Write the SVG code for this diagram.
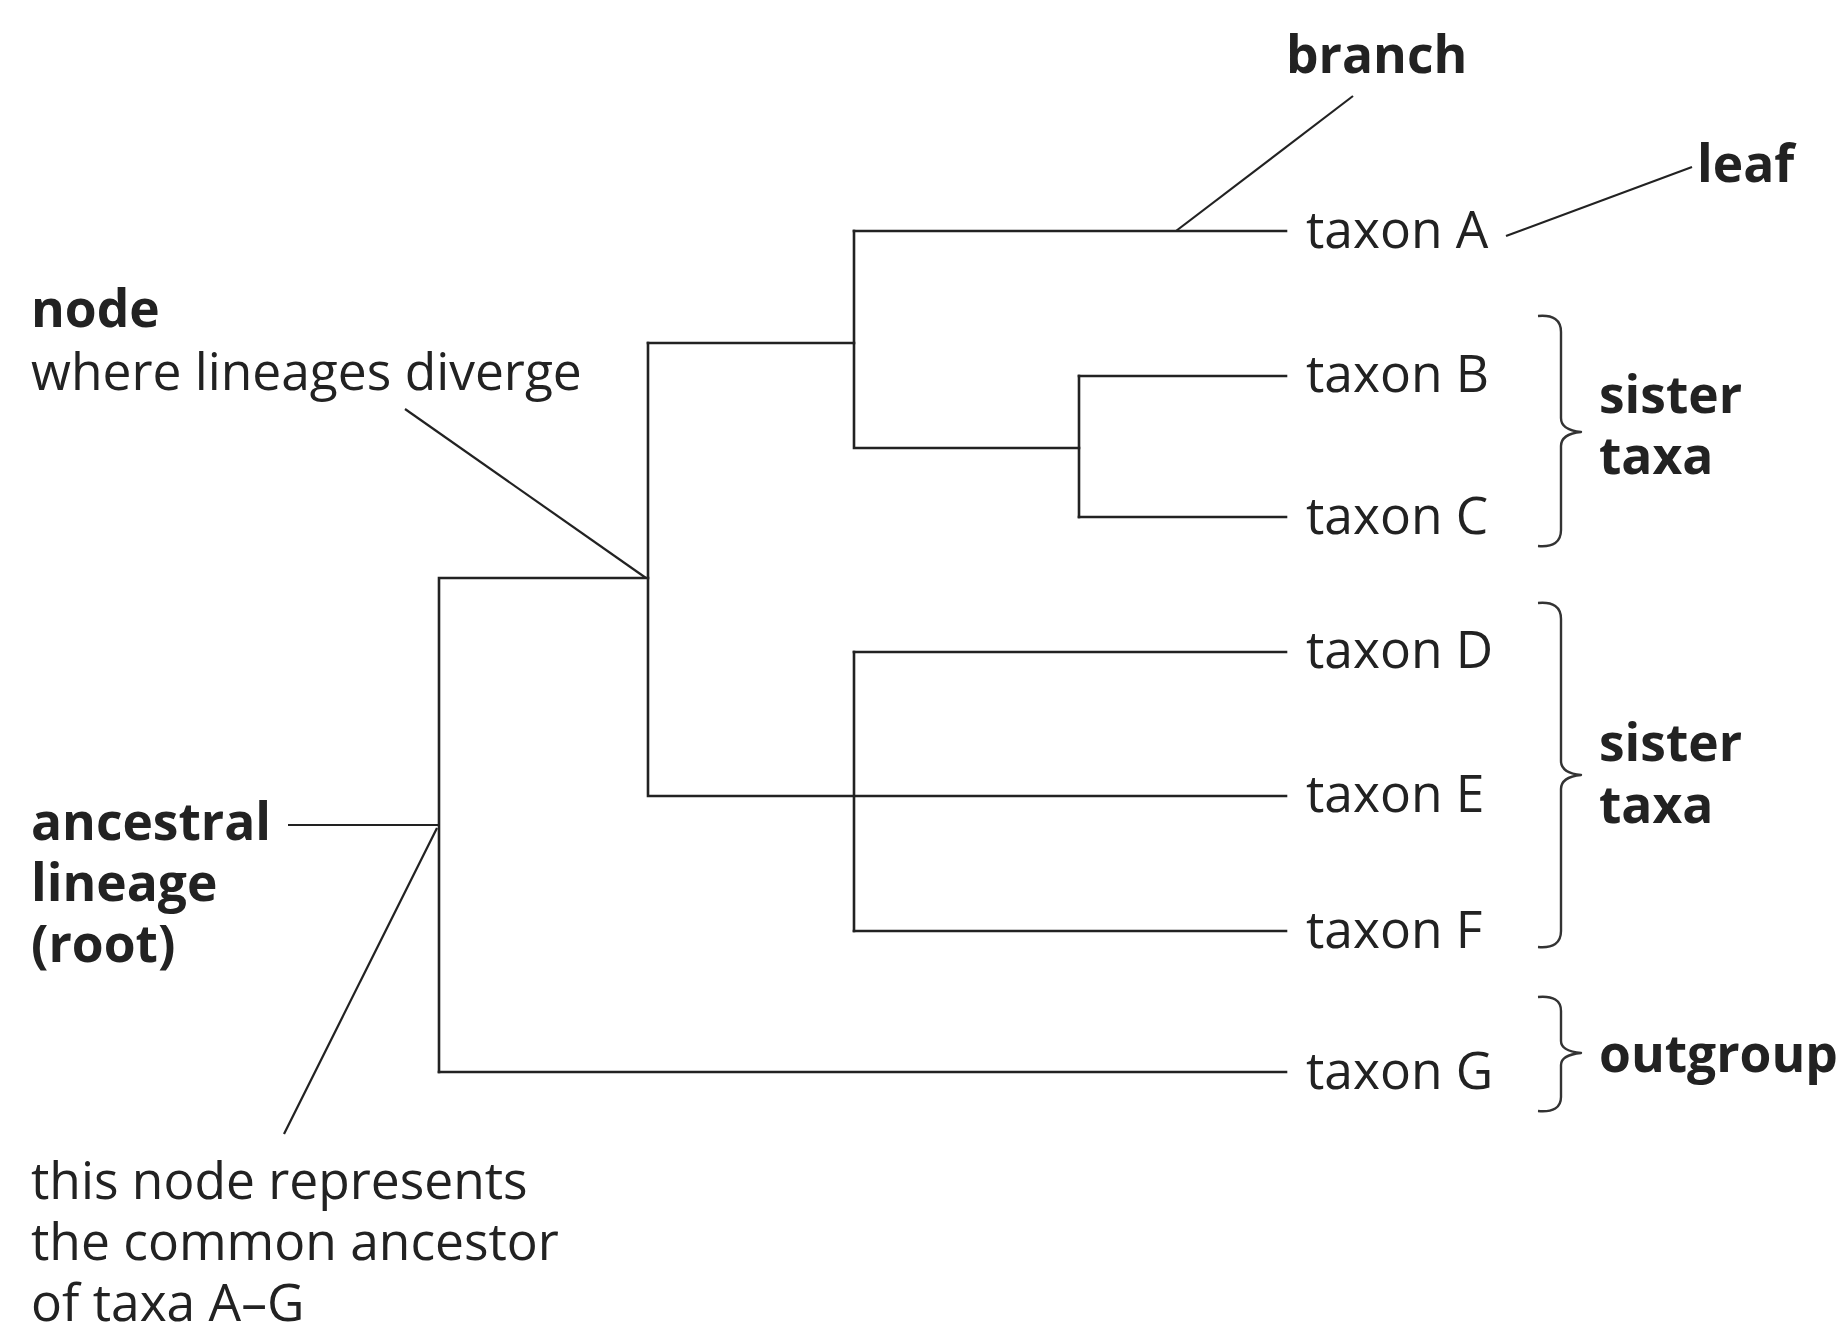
<svg xmlns="http://www.w3.org/2000/svg" width="1841" height="1323" viewBox="0 0 1841 1323">
  <style>
    .edge { fill: none; stroke: #222; stroke-width: 2.6; stroke-linecap: square; }
    .ptr { fill: none; stroke: #222; stroke-width: 2.2; }
    .brace { fill: none; stroke: #333; stroke-width: 2.4; stroke-linejoin: round; }
    text { font-family: "Open Sans", "Noto Sans", "DejaVu Sans", sans-serif; fill: #222; font-size: 51.5px; }
    .b { font-weight: bold; }
  </style>
  <rect width="1841" height="1323" fill="#fff"/>

  <!-- tree branches -->
  <g id="connectors">
    <path class="edge" d="M439,1072 V578 H648"/>
    <path class="edge" d="M439,1072 H1286"/>
    <path class="edge" d="M648,343 V796 H1286"/>
    <path class="edge" d="M648,343 H854 V448 H1079"/>
    <path class="edge" d="M854,231 V343"/>
    <path class="edge" d="M854,231 H1286"/>
    <path class="edge" d="M1079,376 V517"/>
    <path class="edge" d="M1079,376 H1286"/>
    <path class="edge" d="M1079,517 H1286"/>
    <path class="edge" d="M854,652 V931"/>
    <path class="edge" d="M854,652 H1286"/>
    <path class="edge" d="M854,931 H1286"/>
    <!-- callout pointers -->
    <line class="ptr" x1="1353" y1="96" x2="1176" y2="231"/>
    <line class="ptr" x1="1692" y1="167" x2="1506" y2="236"/>
    <line class="ptr" x1="405" y1="409" x2="646" y2="578"/>
    <line class="ptr" x1="288" y1="825" x2="439" y2="825"/>
    <line class="ptr" x1="437" y1="828" x2="284" y2="1134"/>
  </g>

  <!-- leaf labels -->
  <g id="taxon-a"><text x="1306" y="248">taxon A</text></g>
  <g id="taxon-b"><text x="1306" y="392">taxon B</text></g>
  <g id="taxon-c"><text x="1306" y="534">taxon C</text></g>
  <g id="taxon-d"><text x="1306" y="668">taxon D</text></g>
  <g id="taxon-e"><text x="1306" y="812">taxon E</text></g>
  <g id="taxon-f"><text x="1306" y="948">taxon F</text></g>
  <g id="taxon-g"><text x="1306" y="1089">taxon G</text></g>

  <!-- annotations -->
  <g id="label-branch"><text class="b" x="1286" y="73">branch</text></g>
  <g id="label-leaf"><text class="b" x="1697" y="182">leaf</text></g>
  <g id="label-node">
    <text class="b" x="31" y="327">node</text>
    <text x="31" y="390">where lineages diverge</text>
  </g>
  <g id="label-root">
    <text class="b" x="31" y="840">ancestral</text>
    <text class="b" x="31" y="901">lineage</text>
    <text class="b" x="31" y="962">(root)</text>
  </g>
  <g id="label-common-ancestor">
    <text x="31" y="1199">this node represents</text>
    <text x="31" y="1260">the common ancestor</text>
    <text x="31" y="1321">of taxa A–G</text>
  </g>

  <!-- grouping braces -->
  <g id="brace-bc">
    <path class="brace" d="M1538,316 Q1561,314 1561,332 V418 Q1561,430 1581,432 Q1561,434 1561,446 V530 Q1561,548 1538,546"/>
    <text class="b" x="1599" y="413">sister</text>
    <text class="b" x="1599" y="474">taxa</text>
  </g>
  <g id="brace-def">
    <path class="brace" d="M1538,603 Q1561,601 1561,619 V761 Q1561,773 1581,775 Q1561,777 1561,789 V931 Q1561,949 1538,947"/>
    <text class="b" x="1599" y="761">sister</text>
    <text class="b" x="1599" y="823">taxa</text>
  </g>
  <g id="brace-g">
    <path class="brace" d="M1538,997 Q1561,995 1561,1011 V1041 Q1561,1051 1581,1053 Q1561,1055 1561,1065 V1097 Q1561,1113 1538,1111"/>
    <text class="b" x="1599" y="1072">outgroup</text>
  </g>
</svg>
